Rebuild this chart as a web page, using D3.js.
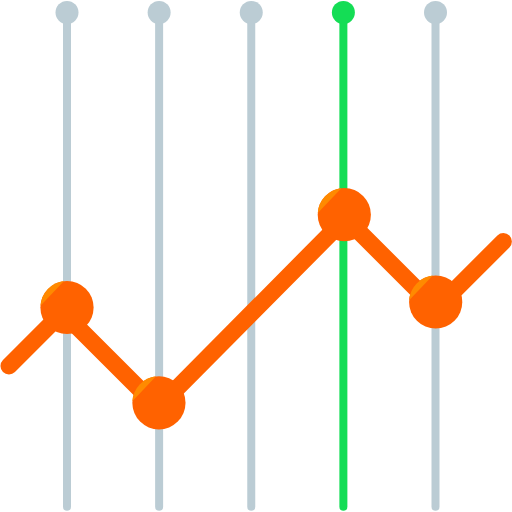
<!DOCTYPE html>
<html>
<head>
<meta charset="utf-8">
<script src="https://cdn.jsdelivr.net/npm/d3@7/dist/d3.min.js"></script>
<style>html,body{margin:0;padding:0;background:#fff}svg{display:block}</style>
</head>
<body>
<script>
const stemPositions = [0, 1, 2, 3, 4];
const stemColors = ["#BBCCD4", "#BBCCD4", "#BBCCD4", "#14DD55", "#BBCCD4"];
const linePositions = [-0.63, -0.047, 0.988, 3.025, 4.007, 4.737];
const lineValues = [146, 199.7, 104.5, 293.75, 203.25, 270.5];
const markerPositions = [0, 0.998, 3.01, 4.002];
const markerValues = [204.5, 109.2, 297.3, 210];

const svg = d3.select("body").append("svg").attr("width", 512).attr("height", 512);
const x = d3.scaleLinear().domain([0, 4]).range([67, 435.5]);
const y = d3.scaleLinear().domain([0, 512]).range([512, 0]);

const stems = svg.append("g");
stems.selectAll("line").data(stemPositions).join("line")
  .attr("x1", d => x(d)).attr("x2", d => x(d))
  .attr("y1", y(499.5)).attr("y2", y(5.3))
  .attr("stroke", (d, i) => stemColors[i])
  .attr("stroke-width", 8)
  .attr("stroke-linecap", "round");
stems.selectAll("circle").data(stemPositions).join("circle")
  .attr("cx", d => x(d)).attr("cy", y(499.5)).attr("r", 11.5)
  .attr("fill", (d, i) => stemColors[i]);

const lineGen = d3.line().x(d => x(d[0])).y(d => y(d[1]));
svg.append("path")
  .datum(d3.zip(linePositions, lineValues))
  .attr("d", lineGen)
  .attr("fill", "none")
  .attr("stroke", "#FF6200")
  .attr("stroke-width", 17)
  .attr("stroke-linecap", "round")
  .attr("stroke-linejoin", "miter");

const R = 26.6;
const markers = svg.append("g").selectAll("g")
  .data(d3.zip(markerPositions, markerValues)).join("g")
  .attr("transform", d => `translate(${x(d[0])},${y(d[1])})`);
markers.append("circle").attr("r", R).attr("fill", "#FF6200");
// lighter chord segment at the upper left of each marker
const a0 = Math.PI * 1.52, a1 = Math.PI * 1.965;
const px = a => R * Math.sin(a), py = a => -R * Math.cos(a);
markers.append("path")
  .attr("d", `M${px(a0)},${py(a0)}A${R},${R} 0 0 1 ${px(a1)},${py(a1)}Z`)
  .attr("fill", "#FF8A00");
</script>
</body>
</html>
